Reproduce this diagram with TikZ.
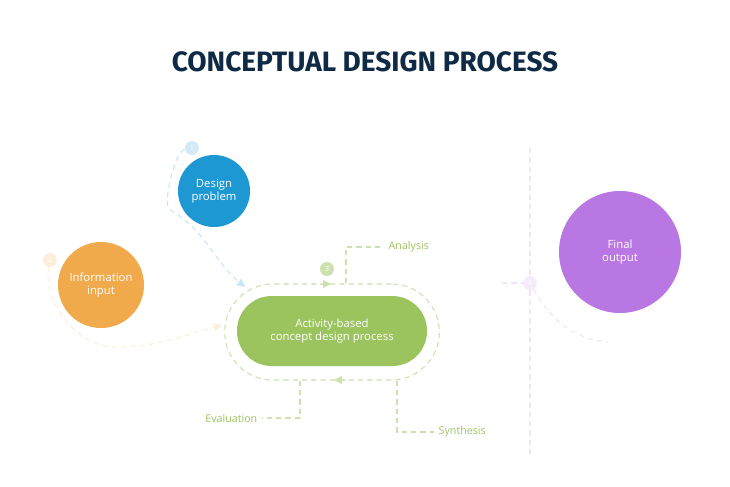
\documentclass[tikz,border=0pt]{standalone}
\usepackage{fontspec}
\setmainfont{Open Sans}
\newfontfamily\titlefont{Fira Sans}
\usetikzlibrary{arrows.meta}
\definecolor{navy}{HTML}{0F2A44}
\definecolor{probblue}{HTML}{1E98D3}
\definecolor{inorange}{HTML}{F0AA4C}
\definecolor{actgreen}{HTML}{9BC35E}
\definecolor{outpurple}{HTML}{B977E3}
\tikzset{
  blob/.style={circle,inner sep=0pt,text=white,align=center,font=\fontsize{8.5}{10}\selectfont},
  badge/.style={circle,inner sep=0pt,minimum size=10.5pt,text=white,font=\fontsize{5.5}{6}\selectfont},
  link/.style={dashed,dash pattern=on 4pt off 3pt,line width=0.8pt},
  tip/.style={-{Triangle[length=6pt,width=6pt]}},
  steplabel/.style={text=actgreen,font=\fontsize{8}{9}\selectfont}
}
\begin{document}
\begin{tikzpicture}[x=0.75pt,y=-0.75pt]
\useasboundingbox (0,0) rectangle (730,486);
\node[text=navy,font=\titlefont\bfseries\fontsize{21}{24}\selectfont] (title) at (365,62) {CONCEPTUAL DESIGN PROCESS};

% inputs
\node[blob,fill=probblue,minimum size=54pt] (problem) at (214,191) {Design\\problem};
\node[badge,fill=probblue!20] (b1) at (192,148) {1};
\node[blob,fill=inorange,minimum size=64.5pt] (input) at (101,285) {Information\\input};
\node[badge,fill=inorange!20] (b2) at (50,260) {2};

% central activity
\node[blob,rectangle,rounded corners=26pt,fill=actgreen,minimum width=142.5pt,minimum height=52.5pt] (act) at (332,331) {Activity-based\\concept design process};
\node[draw=actgreen!50,link,rectangle,rounded corners=36pt,minimum width=161pt,minimum height=72pt] (loop) at (332,332) {};
\node[badge,fill=actgreen!50] (b3) at (327,269) {3};
\draw[actgreen!50,tip] (320,284) -- (331,284);
\draw[actgreen!50,tip] (346,380) -- (334,380);

\node[steplabel,anchor=west] (analysis) at (384,247) {Analysis};
\node[steplabel,anchor=east] (evaluation) at (262,418) {Evaluation};
\node[steplabel,anchor=west] (synthesis) at (434,432) {Synthesis};
\draw[actgreen!50,link] (loop.north -| 346,0) |- (analysis.west);
\draw[actgreen!50,link] (loop.south -| 300,0) |- (evaluation.east);
\draw[actgreen!50,link] (loop.south -| 397,0) |- (synthesis.west);

% feeds into the loop
\coordinate (pin) at (245,287);
\coordinate (iin) at (222,325);
\draw[probblue!25,link,tip] (b1) to[out=190,in=150,looseness=0.4] (170,210) to[out=-30,in=140] (pin);
\draw[inorange!20,link,tip] (b2) to[out=-100,in=180,looseness=0.9] (115,347) to[out=0,in=195] (iin);

% output side
\node[blob,fill=outpurple,minimum size=91.5pt] (output) at (620,252) {Final\\output};
\node[badge,fill=outpurple!15] (b4) at (530,283) {4};
\coordinate (vtop) at (530,148);
\coordinate (vbot) at (530,455);
\coordinate (hleft) at (502,283);
\coordinate (arcend) at (608,342);
\draw[outpurple!20,link] (vtop) -- (b4) -- (vbot);
\draw[outpurple!20,link] (hleft) -- (b4);
\draw[outpurple!20,link] (b4) to[out=-60,in=175] (arcend);
\end{tikzpicture}
\end{document}
